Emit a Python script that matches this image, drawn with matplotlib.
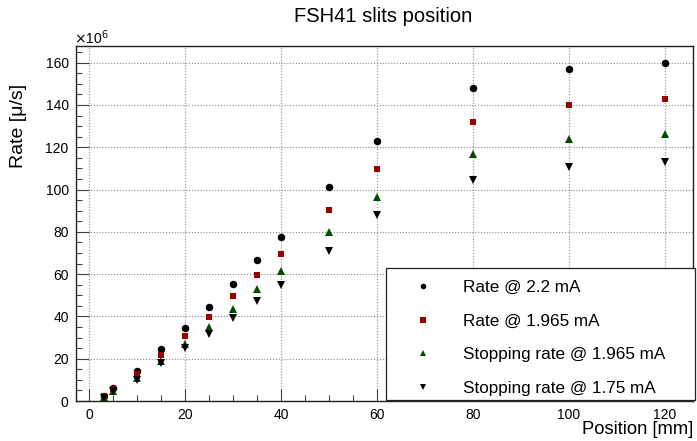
import matplotlib
matplotlib.use("Agg")
import matplotlib.pyplot as plt
from matplotlib.ticker import MultipleLocator, FuncFormatter
from matplotlib.lines import Line2D
from matplotlib.patches import Rectangle

plt.rcParams['font.family'] = ['Liberation Sans', 'DejaVu Sans']

# Slit position [mm]
position = [3, 5, 10, 15, 20, 25, 30, 35, 40, 50, 60, 80, 100, 120]

# Rates in units of 1e6 per second
rate_22 = [2.2, 6.0, 14.0, 24.7, 34.5, 44.4, 55.4, 66.6, 77.7, 101.0, 122.9, 147.9, 156.9, 159.8]
rate_1965 = [2.4, 5.5, 12.6, 21.9, 30.9, 39.5, 49.6, 59.5, 69.5, 90.3, 109.8, 132.0, 140.2, 142.6]
stop_1965 = [1.8, 4.7, 11.0, 19.0, 26.9, 35.1, 43.6, 52.8, 61.3, 79.7, 96.4, 116.7, 123.8, 126.5]
stop_175 = [1.6, 4.5, 9.9, 17.8, 25.0, 31.7, 39.2, 47.3, 54.8, 71.0, 87.8, 104.4, 110.7, 112.8]

labels = ["Rate @ 2.2 mA", "Rate @ 1.965 mA",
          "Stopping rate @ 1.965 mA", "Stopping rate @ 1.75 mA"]

W, H = 697, 441
fig = plt.figure(figsize=(W / 100, H / 100), dpi=100)
ax = fig.add_axes([0.1085, 0.0907, 0.8857, 0.805])

series = [
    (rate_22, 'o', '#000000', 5.4),
    (rate_1965, 's', '#990000', 5.0),
    (stop_1965, '^', '#004d00', 5.4),
    (stop_175, 'v', '#000000', 5.4),
]
for vals, m, c, ms in series:
    ax.plot(position, vals, linestyle='none', marker=m, color=c,
            markersize=ms, markeredgewidth=0, zorder=3)

ax.set_xlim(-2.85, 125.85)
ax.set_ylim(0, 167.9)

ax.xaxis.set_major_locator(MultipleLocator(20))
ax.xaxis.set_minor_locator(MultipleLocator(5))
ax.yaxis.set_major_locator(MultipleLocator(20))
ax.yaxis.set_minor_locator(MultipleLocator(5))
ax.yaxis.set_major_formatter(FuncFormatter(lambda v, p: f"{v:g}"))

ax.tick_params(which='both', direction='in', top=False, right=False,
               labelsize=10, color='#444444', width=0.8, pad=5)
ax.tick_params(which='major', length=9)
ax.tick_params(which='minor', length=4.5)

ax.grid(True, which='major', color='#8a8a8a', linestyle=(0, (1.0, 1.6)),
        linewidth=0.8, zorder=0)
for s in ax.spines.values():
    s.set_linewidth(1.0)
    s.set_color('#222222')

fig.text(0.55, 0.962, "FSH41 slits position", ha='center', va='center', fontsize=14.5)
fig.text(0.994, 0.027, "Position [mm]", ha='right', va='center', fontsize=13.2)
fig.text(0.026, 0.81, "Rate [\u03bc/s]", ha='center', va='top', rotation=90, fontsize=14)
fig.text(0.106, 0.893, r"$\times$10$^{6}$", ha='left', va='bottom', fontsize=10)

# Legend box (white panel with thin border, drawn in figure coordinates)
x0, x1, ytop, ybot = 386, 695, 268, 400
box = Rectangle((x0 / W, 1 - ybot / H), (x1 - x0) / W, (ybot - ytop) / H,
                transform=fig.transFigure, facecolor='white',
                edgecolor='#222222', linewidth=0.9, zorder=4)
fig.add_artist(box)

handles = [Line2D([], [], linestyle='none', marker=m, color=c, markersize=ms * 0.75,
                  markeredgewidth=0) for _, m, c, ms in series]
leg = fig.legend(handles, labels, loc='upper left',
                 bbox_to_anchor=(406 / W, 1 - 280 / H),
                 bbox_transform=fig.transFigure,
                 fontsize=12.3, frameon=False, borderpad=0.0,
                 labelspacing=1.09, handletextpad=1.34, handlelength=2.0,
                 borderaxespad=0.0)
leg.set_zorder(5)

fig.savefig("out.png", dpi=100)
